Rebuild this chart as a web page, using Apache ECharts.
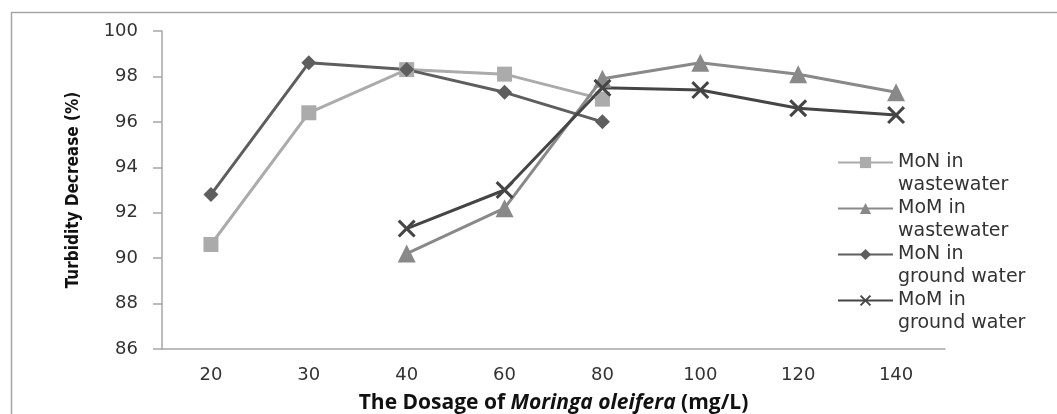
<!DOCTYPE html>
<html>
<head>
<meta charset="utf-8">
<script src="https://cdn.jsdelivr.net/npm/echarts@6/dist/echarts.min.js"></script>
<style>
html,body{margin:0;padding:0;background:#fff;}
#chart{width:1057px;height:414px;}
</style>
</head>
<body>
<div id="chart"></div>
<script>
var categories = ['20','30','40','60','80','100','120','140'];
var monWastewater = [90.6, 96.4, 98.3, 98.1, 97.0, null, null, null];
var momWastewater = [null, null, 90.2, 92.2, 97.9, 98.6, 98.1, 97.3];
var monGroundwater = [92.8, 98.6, 98.3, 97.3, 96.0, null, null, null];
var momGroundwater = [null, null, 91.3, 93.0, 97.5, 97.4, 96.6, 96.3];
var yTicks = [86, 88, 90, 92, 94, 96, 98, 100];
var seriesNames = ['MoN in\nwastewater', 'MoM in\nwastewater', 'MoN in\nground water', 'MoM in\nground water'];

var crossPath = 'path://M0,1.2 L1.2,0 L5,3.8 L8.8,0 L10,1.2 L6.2,5 L10,8.8 L8.8,10 L5,6.2 L1.2,10 L0,8.8 L3.8,5 Z';
var tickFont = "'DejaVu Sans', Verdana, sans-serif";

var chart = echarts.init(document.getElementById('chart'), null, {renderer: 'canvas'});
function mk(name, data, color, symbol, size) {
  return {
    name: name, type: 'line', data: data, connectNulls: false,
    symbol: symbol, symbolSize: size, showAllSymbol: true,
    lineStyle: {color: color, width: 3},
    itemStyle: {color: color, borderColor: color, borderWidth: 0},
    emphasis: {disabled: true}, animation: false
  };
}
chart.setOption({
  animation: false,
  graphic: [{
    type: 'rect', left: 9, top: 10,
    shape: {x: 0, y: 0, width: 1100, height: 500},
    style: {fill: 'none', stroke: '#a6a6a6', lineWidth: 1.5},
    silent: true, z: -10
  }],
  grid: {left: 162, right: 112, top: 31, bottom: 65, containLabel: false, outerBoundsMode: 'none'},
  legend: {
    orient: 'vertical', left: 837, top: 128, padding: 0,
    itemWidth: 55, itemHeight: 14, itemGap: -23,
    data: seriesNames,
    formatter: function (name) { return ' \n' + name; },
    textStyle: {fontFamily: tickFont, fontSize: 19, color: '#333', lineHeight: 23},
    selectedMode: false
  },
  xAxis: {
    type: 'category', data: categories, boundaryGap: true,
    axisLine: {lineStyle: {color: '#a6a6a6', width: 1.5}},
    axisTick: {show: false},
    axisLabel: {fontFamily: tickFont, fontSize: 18, color: '#333', margin: 17},
    name: '{b|The Dosage of }{i|Moringa oleifera}{b| (mg/L)}',
    nameLocation: 'middle', nameGap: 44,
    nameTextStyle: {
      rich: {
        b: {fontFamily: "'Open Sans', 'DejaVu Sans', sans-serif", fontWeight: 'bold', fontSize: 21, color: '#111'},
        i: {fontFamily: "'Open Sans', 'DejaVu Sans', sans-serif", fontWeight: 'bold', fontStyle: 'italic', fontSize: 21, color: '#111'}
      }
    }
  },
  yAxis: {
    type: 'value', min: yTicks[0], max: yTicks[yTicks.length - 1], interval: 2,
    axisLine: {show: true, lineStyle: {color: '#a6a6a6', width: 1.5}},
    axisTick: {show: true, length: 9, lineStyle: {color: '#a6a6a6', width: 1.5}},
    splitLine: {show: false},
    axisLabel: {fontFamily: tickFont, fontSize: 18, color: '#333', margin: 24},
    name: 'Turbidity Decrease (%)', nameLocation: 'middle', nameGap: 80, nameRotate: 90,
    nameTextStyle: {fontFamily: "'Liberation Sans Narrow', 'DejaVu Sans Condensed', 'Open Sans', sans-serif", fontWeight: 'bold', fontSize: 17, color: '#111'}
  },
  series: [
    mk(seriesNames[0], monWastewater, '#ababab', 'rect', 15),
    mk(seriesNames[1], momWastewater, '#898989', 'triangle', 18),
    mk(seriesNames[2], monGroundwater, '#5e5e5e', 'diamond', 15),
    mk(seriesNames[3], momGroundwater, '#454545', crossPath, 18)
  ]
});
</script>
</body>
</html>
